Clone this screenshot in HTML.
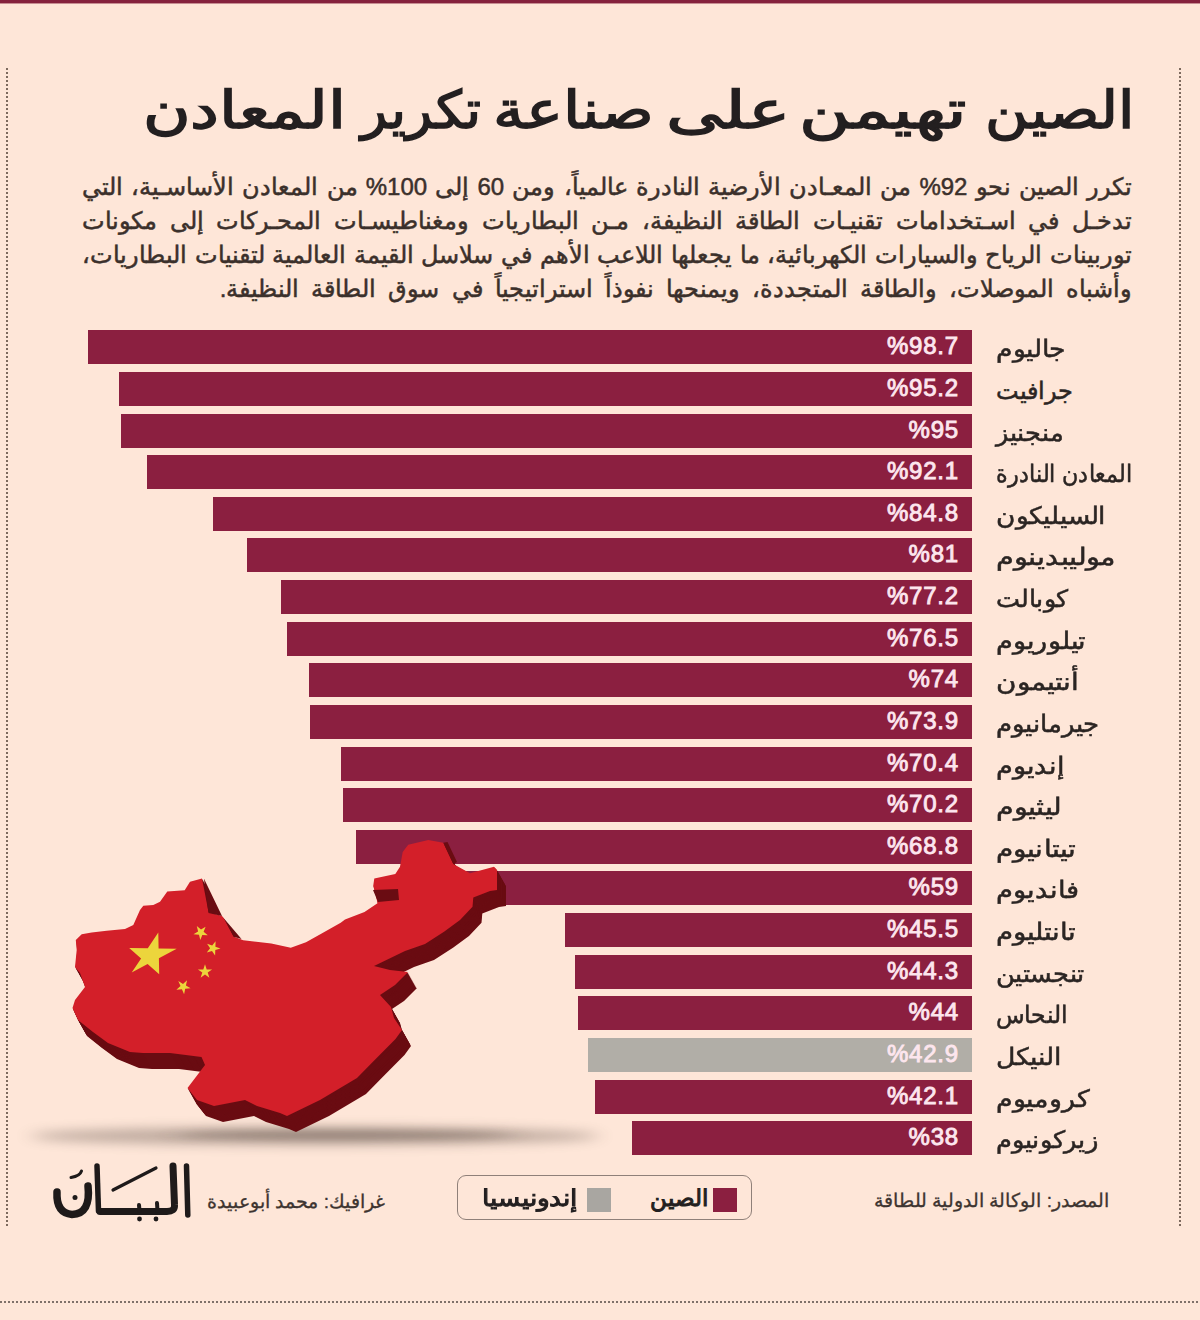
<!DOCTYPE html>
<html lang="ar">
<head>
<meta charset="utf-8">
<style>
html,body{margin:0;padding:0;overflow:hidden}
body{width:1200px;height:1320px;position:relative;background:#fee6d8;font-family:"Liberation Sans",sans-serif;color:#2a2422}
.a{position:absolute}
.topbar{left:0;top:0;width:1200px;height:3px;background:#85213d;box-shadow:0 1px 0 rgba(133,33,61,0.45)}
.vdot{width:2px;background:repeating-linear-gradient(to bottom,#7d6a5e 0 2px,transparent 2px 4px)}
.hdot{height:2px;background:repeating-linear-gradient(to right,#7f716a 0 2px,transparent 2px 4px)}
.title{right:70px;top:70px;font-size:52px;font-weight:normal;-webkit-text-stroke:1.5px #231f20;transform-origin:100% 50%;white-space:nowrap;color:#231f20;line-height:80px}
.para{right:68px;width:1050px;font-size:24px;line-height:34px;color:#3b302b;-webkit-text-stroke:0.5px #3b302b;white-space:nowrap;text-align:justify;text-align-last:justify}
.bar{background:#8b1f40;height:34px}
.bar.gray{background:#b1aea7}
.pct{left:772px;width:187px;color:#fde6ee;font-weight:normal;-webkit-text-stroke:0.9px #fde6ee;font-size:24px;letter-spacing:0.8px;direction:ltr;text-align:right;line-height:32px}
.lab{transform-origin:0 50%;left:996px;font-size:24px;line-height:36px;white-space:nowrap;text-align:left;color:#2b2523;-webkit-text-stroke:0.5px #2b2523}
.legend{left:457px;top:1175px;width:295px;height:45px;border:1.5px solid #8f8079;border-radius:9px;box-sizing:border-box}
.sq{width:24px;height:24px}
.foot{font-size:19px;white-space:nowrap;color:#3d3430;line-height:30px;-webkit-text-stroke:0.3px #3d3430}
.leg{font-size:23px;color:#231f20;-webkit-text-stroke:1px #231f20}
.logo{font-size:54px;line-height:60px;white-space:nowrap;color:#1e1a1a;-webkit-text-stroke:2px #1e1a1a;transform:scaleX(1.16);transform-origin:100% 50%}
</style>
</head>
<body>
<div class="a topbar"></div>
<div class="a vdot" style="left:6px;top:68px;height:1160px"></div>
<div class="a vdot" style="left:1179px;top:68px;height:1160px"></div>
<div class="a hdot" style="left:0;top:1301px;width:1200px"></div>

<div class="a title" dir="rtl" style="right:66.5px;transform:scaleX(1.137)">الصين</div>
<div class="a title" dir="rtl" style="right:234.0px;transform:scaleX(1.347)">تهيمن</div>
<div class="a title" dir="rtl" style="right:410.5px;transform:scaleX(1.365)">على</div>
<div class="a title" dir="rtl" style="right:546.4px;transform:scaleX(1.194)">صناعة</div>
<div class="a title" dir="rtl" style="right:719.5px;transform:scaleX(1.042)">تكرير</div>
<div class="a title" dir="rtl" style="right:855.5px;transform:scaleX(1.248)">المعادن</div>
<div class="a para" dir="rtl" style="top:170px">تكرر الصين نحو 92% من المعـادن الأرضية النادرة عالمياً، ومن 60 إلى 100% من المعادن الأساسـية، التي</div>
<div class="a para" dir="rtl" style="top:204px">تدخـل في اسـتخدامات تقنيـات الطاقة النظيفة، مـن البطاريات ومغناطيسـات المحـركات إلى مكونات</div>
<div class="a para" dir="rtl" style="top:238px">توربينات الرياح والسيارات الكهربائية، ما يجعلها اللاعب الأهم في سلاسل القيمة العالمية لتقنيات البطاريات،</div>
<div class="a para" dir="rtl" style="top:272px;text-align-last:right;word-spacing:5.4px">وأشباه الموصلات، والطاقة المتجددة، ويمنحها نفوذاً استراتيجياً في سوق الطاقة النظيفة.</div>

<div class="a bar" style="top:330px;left:88px;width:884px"></div>
<div class="a pct" style="top:330px">%98.7</div>
<div class="a lab" dir="rtl" style="top:331px;transform:scaleX(1.11)">جاليوم</div>
<div class="a bar" style="top:372px;left:119px;width:853px"></div>
<div class="a pct" style="top:372px">%95.2</div>
<div class="a lab" dir="rtl" style="top:373px;transform:scaleX(1.0)">جرافيت</div>
<div class="a bar" style="top:414px;left:121px;width:851px"></div>
<div class="a pct" style="top:414px">%95</div>
<div class="a lab" dir="rtl" style="top:415px;transform:scaleX(1.07)">منجنيز</div>
<div class="a bar" style="top:455px;left:147px;width:825px"></div>
<div class="a pct" style="top:455px">%92.1</div>
<div class="a lab" dir="rtl" style="top:456px;transform:scaleX(0.93)">المعادن النادرة</div>
<div class="a bar" style="top:497px;left:213px;width:759px"></div>
<div class="a pct" style="top:497px">%84.8</div>
<div class="a lab" dir="rtl" style="top:498px;transform:scaleX(1.1)">السيليكون</div>
<div class="a bar" style="top:538px;left:247px;width:725px"></div>
<div class="a pct" style="top:538px">%81</div>
<div class="a lab" dir="rtl" style="top:539px;transform:scaleX(1.2)">موليبدينوم</div>
<div class="a bar" style="top:580px;left:281px;width:691px"></div>
<div class="a pct" style="top:580px">%77.2</div>
<div class="a lab" dir="rtl" style="top:581px;transform:scaleX(1.06)">كوبالت</div>
<div class="a bar" style="top:622px;left:287px;width:685px"></div>
<div class="a pct" style="top:622px">%76.5</div>
<div class="a lab" dir="rtl" style="top:623px;transform:scaleX(1.13)">تيلوريوم</div>
<div class="a bar" style="top:663px;left:309px;width:663px"></div>
<div class="a pct" style="top:663px">%74</div>
<div class="a lab" dir="rtl" style="top:664px;transform:scaleX(1.16)">أنتيمون</div>
<div class="a bar" style="top:705px;left:310px;width:662px"></div>
<div class="a pct" style="top:705px">%73.9</div>
<div class="a lab" dir="rtl" style="top:706px;transform:scaleX(1.08)">جيرمانيوم</div>
<div class="a bar" style="top:747px;left:341px;width:631px"></div>
<div class="a pct" style="top:747px">%70.4</div>
<div class="a lab" dir="rtl" style="top:748px;transform:scaleX(1.13)">إنديوم</div>
<div class="a bar" style="top:788px;left:343px;width:629px"></div>
<div class="a pct" style="top:788px">%70.2</div>
<div class="a lab" dir="rtl" style="top:789px;transform:scaleX(1.19)">ليثيوم</div>
<div class="a bar" style="top:830px;left:356px;width:616px"></div>
<div class="a pct" style="top:830px">%68.8</div>
<div class="a lab" dir="rtl" style="top:831px;transform:scaleX(1.16)">تيتانيوم</div>
<div class="a bar" style="top:871px;left:444px;width:528px"></div>
<div class="a pct" style="top:871px">%59</div>
<div class="a lab" dir="rtl" style="top:872px;transform:scaleX(1.14)">فانديوم</div>
<div class="a bar" style="top:913px;left:565px;width:407px"></div>
<div class="a pct" style="top:913px">%45.5</div>
<div class="a lab" dir="rtl" style="top:914px;transform:scaleX(1.15)">تانتليوم</div>
<div class="a bar" style="top:955px;left:575px;width:397px"></div>
<div class="a pct" style="top:955px">%44.3</div>
<div class="a lab" dir="rtl" style="top:956px;transform:scaleX(1.07)">تنجستين</div>
<div class="a bar" style="top:996px;left:578px;width:394px"></div>
<div class="a pct" style="top:996px">%44</div>
<div class="a lab" dir="rtl" style="top:997px;transform:scaleX(0.98)">النحاس</div>
<div class="a bar gray" style="top:1038px;left:588px;width:384px"></div>
<div class="a pct" style="top:1038px">%42.9</div>
<div class="a lab" dir="rtl" style="top:1039px;transform:scaleX(1.11)">النيكل</div>
<div class="a bar" style="top:1080px;left:595px;width:377px"></div>
<div class="a pct" style="top:1080px">%42.1</div>
<div class="a lab" dir="rtl" style="top:1081px;transform:scaleX(1.12)">كروميوم</div>
<div class="a bar" style="top:1121px;left:632px;width:340px"></div>
<div class="a pct" style="top:1121px">%38</div>
<div class="a lab" dir="rtl" style="top:1122px;transform:scaleX(1.07)">زيركونيوم</div>

<svg class="a" style="left:0;top:0" width="1200" height="1320" viewBox="0 0 1200 1320">
<defs>
<filter id="blur" x="-50%" y="-300%" width="200%" height="700%"><feGaussianBlur stdDeviation="9 6"/></filter>
<filter id="blur2" x="-50%" y="-300%" width="200%" height="700%"><feGaussianBlur stdDeviation="14 4"/></filter>
<path id="cn" d="M75.8,940.0 L81.7,934.2 L91.7,932.5 L106.7,930.8 L125.0,929.0 L133.3,925.0 L140.0,910.0 L143.3,905.8 L153.3,905.0 L160.0,901.7 L167.3,891.4 L184.7,890.3 L190.0,881.7 L202.0,878.4 L208.5,912.0 L222.0,916.0 L224.0,918.5 L233.6,936.5 L243.2,940.2 L271.3,943.4 L290.8,947.8 L306.0,942.3 L321.2,933.7 L340.7,922.8 L345.0,919.6 L364.5,912.0 L377.5,903.3 L375.3,892.5 L373.2,886.0 L374.3,878.6 L395.3,874.0 L400.0,866.7 L402.7,852.0 L408.2,844.7 L428.3,840.0 L443.3,842.7 L453.3,864.0 L470.0,873.3 L494.0,866.7 L497.0,870.0 L497.0,890.0 L490.0,891.0 L473.3,897.5 L472.5,906.7 L460.0,920.0 L444.0,931.7 L425.0,944.0 L405.0,951.0 L374.0,966.0 L390.0,970.0 L408.0,972.0 L395.0,985.0 L380.0,995.0 L391.0,1007.0 L394.0,1018.0 L402.0,1030.0 L395.5,1039.0 L372.7,1062.0 L357.0,1078.0 L320.0,1100.0 L287.0,1116.0 L280.0,1113.0 L257.0,1106.0 L245.0,1100.0 L214.0,1106.0 L197.0,1100.0 L187.5,1088.0 L205.0,1065.0 L201.5,1057.0 L170.0,1053.0 L143.0,1053.0 L130.0,1052.0 L108.0,1043.0 L93.0,1032.0 L78.0,1020.0 L72.5,1008.0 L75.0,1000.0 L85.0,987.0 L80.0,973.0 L75.0,967.0 L76.7,950.0 Z"/>
</defs>
<ellipse cx="315" cy="1136" rx="285" ry="9" fill="#6f6058" opacity="0.45" filter="url(#blur)"/>
<ellipse cx="345" cy="1135" rx="170" ry="5" fill="#3d2e28" opacity="0.32" filter="url(#blur2)"/>
<g fill="#6a0c12">
<use href="#cn" transform="translate(9.00,16.00)"/>
<use href="#cn" transform="translate(8.44,15.00)"/>
<use href="#cn" transform="translate(7.88,14.00)"/>
<use href="#cn" transform="translate(7.31,13.00)"/>
<use href="#cn" transform="translate(6.75,12.00)"/>
<use href="#cn" transform="translate(6.19,11.00)"/>
<use href="#cn" transform="translate(5.62,10.00)"/>
<use href="#cn" transform="translate(5.06,9.00)"/>
<use href="#cn" transform="translate(4.50,8.00)"/>
<use href="#cn" transform="translate(3.94,7.00)"/>
<use href="#cn" transform="translate(3.38,6.00)"/>
<use href="#cn" transform="translate(2.81,5.00)"/>
<use href="#cn" transform="translate(2.25,4.00)"/>
<use href="#cn" transform="translate(1.69,3.00)"/>
<use href="#cn" transform="translate(1.12,2.00)"/>
<use href="#cn" transform="translate(0.56,1.00)"/>
</g>
<path d="M75.8,940.0 L81.7,934.2 L91.7,932.5 L106.7,930.8 L125.0,929.0 L133.3,925.0 L140.0,910.0 L143.3,905.8 L153.3,905.0 L160.0,901.7 L167.3,891.4 L184.7,890.3 L190.0,881.7 L202.0,878.4 L208.5,912.0 L222.0,916.0 L224.0,918.5 L233.6,936.5 L243.2,940.2 L271.3,943.4 L290.8,947.8 L306.0,942.3 L321.2,933.7 L340.7,922.8 L345.0,919.6 L364.5,912.0 L377.5,903.3 L375.3,892.5 L373.2,886.0 L374.3,878.6 L395.3,874.0 L400.0,866.7 L402.7,852.0 L408.2,844.7 L428.3,840.0 L443.3,842.7 L453.3,864.0 L470.0,873.3 L494.0,866.7 L497.0,870.0 L497.0,890.0 L490.0,891.0 L473.3,897.5 L472.5,906.7 L460.0,920.0 L444.0,931.7 L425.0,944.0 L405.0,951.0 L374.0,966.0 L390.0,970.0 L408.0,972.0 L395.0,985.0 L380.0,995.0 L391.0,1007.0 L394.0,1018.0 L402.0,1030.0 L395.5,1039.0 L372.7,1062.0 L357.0,1078.0 L320.0,1100.0 L287.0,1116.0 L280.0,1113.0 L257.0,1106.0 L245.0,1100.0 L214.0,1106.0 L197.0,1100.0 L187.5,1088.0 L205.0,1065.0 L201.5,1057.0 L170.0,1053.0 L143.0,1053.0 L130.0,1052.0 L108.0,1043.0 L93.0,1032.0 L78.0,1020.0 L72.5,1008.0 L75.0,1000.0 L85.0,987.0 L80.0,973.0 L75.0,967.0 L76.7,950.0 Z" fill="#d31f29"/>
<path d="M203.9,878.5 L222.0,916.0 L208.5,913.0 Z M224.0,918.5 L241.5,939.0 L233.6,936.7 Z M373.0,890.0 L398.0,889.0 L399.0,900.0 L378.0,902.0 Z M443.3,842.7 L447.5,842.0 L457.0,862.0 L453.3,864.0 Z" fill="#6a0c12"/>
<path d="M158.3,932.5 L158.6,948.5 L176.7,948.8 L158.9,958.2 L159.2,974.2 L147.6,964.1 L131.7,972.5 L141.1,958.4 L129.2,948.0 L147.8,948.3 Z M205.6,926.8 L203.6,931.8 L207.8,935.3 L202.3,934.9 L200.3,940.0 L199.0,934.7 L193.5,934.3 L198.1,931.4 L196.8,926.1 L201.0,929.6 Z M215.6,941.3 L215.4,946.7 L220.5,948.6 L215.3,950.1 L215.1,955.5 L212.0,951.0 L206.8,952.5 L210.1,948.2 L207.1,943.7 L212.2,945.5 Z M205.0,964.2 L206.7,969.4 L212.1,969.4 L207.7,972.6 L209.4,977.8 L205.0,974.6 L200.6,977.8 L202.3,972.6 L197.9,969.4 L203.3,969.4 Z M187.1,980.2 L185.9,985.5 L190.6,988.3 L185.2,988.8 L184.1,994.2 L181.9,989.2 L176.4,989.8 L180.5,986.1 L178.3,981.1 L183.0,983.9 Z" fill="#ecd53c"/>
</svg>

<svg class="a" style="left:0;top:1150px" width="220" height="80" viewBox="0 1150 220 80"><g fill="none" stroke="#1e1a1a" stroke-linecap="round" stroke-linejoin="round">
<path d="M186.5,1166 L187.8,1215" stroke-width="5.5"/>
<path d="M173,1166 L174.5,1205 Q175,1211.5 167,1211.5 L100,1211.5" stroke-width="7"/>
<path d="M157,1203 L157.5,1211 M139,1205 L139.5,1211" stroke-width="4"/>
<path d="M97,1166 L98.5,1211" stroke-width="5.5"/>
<path d="M113,1190 L156,1168" stroke-width="3.2"/>
<path d="M88,1186 Q91,1214 72,1214.5 Q56,1213 57,1192" stroke-width="7.5"/>
<path d="M71,1177.5 Q80,1176 81.5,1171" stroke-width="3"/>
</g><g fill="#1e1a1a"><circle cx="139.5" cy="1219" r="2.4"/><circle cx="156" cy="1219" r="2.4"/><circle cx="75" cy="1197.5" r="2.5"/></g></svg>
<div class="a foot" dir="rtl" style="right:815px;top:1187px">غرافيك: محمد أبوعبيدة</div>
<div class="a legend"></div>
<div class="a sq" style="left:713px;top:1188px;background:#8b1f40"></div>
<div class="a foot leg" dir="rtl" style="right:492px;top:1183px">الصين</div>
<div class="a sq" style="left:587px;top:1188px;background:#a9a6a1"></div>
<div class="a foot leg" dir="rtl" style="right:623px;top:1183px;transform:scaleX(1.15);transform-origin:100% 50%">إندونيسيا</div>
<div class="a foot" dir="rtl" style="right:91px;top:1186px">المصدر: الوكالة الدولية للطاقة</div>
</body>
</html>
